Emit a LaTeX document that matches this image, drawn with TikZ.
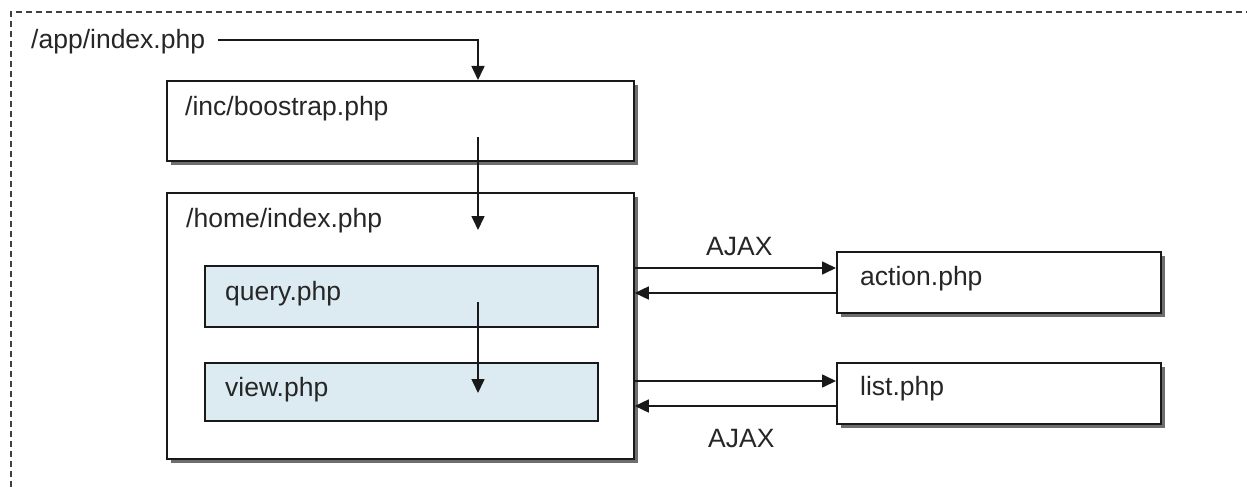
\documentclass[tikz,border=0pt]{standalone}
\usepackage{fontspec}
\setmainfont{Liberation Sans}
\usetikzlibrary{arrows.meta,positioning,calc}
\definecolor{boxblue}{RGB}{220,235,242}
\definecolor{lineclr}{RGB}{25,25,25}
\definecolor{shadowclr}{RGB}{110,110,110}
\begin{document}
\begin{tikzpicture}[x=1pt,y=-1pt,
  txt/.style={font=\fontsize{26.5}{31}\selectfont, text=black!85, inner sep=0pt, anchor=west},
  whitebox/.style={draw=lineclr, line width=1.8pt, fill=white, anchor=north west, inner sep=0pt},
  bluebox/.style={draw=lineclr, line width=1.6pt, fill=boxblue, anchor=north west, inner sep=0pt},
  shadowbox/.style={fill=shadowclr, draw=none, anchor=north west, inner sep=0pt},
  arr/.style={draw=lineclr, line width=1.6pt, -{Triangle[length=14pt,width=13pt]}},
  frame/.style={draw=black!75, line width=1.4pt, dash pattern=on 6pt off 4pt}
]
\useasboundingbox (0,0) rectangle (1247,487);
\fill[white] (0,0) rectangle (1247,487);

% dashed frame (top and left edges visible)
\coordinate (ftl) at (11,12);
\coordinate (ftr) at (1247,12);
\coordinate (fbl) at (11,487);
\draw[frame] (fbl) -- (ftl) -- (ftr);

% shadows
\node[shadowbox, minimum width=467pt, minimum height=80pt] at (171,85) {};
\node[shadowbox, minimum width=467pt, minimum height=266pt] at (171,197) {};
\node[shadowbox, minimum width=324pt, minimum height=61pt] at (841,256) {};
\node[shadowbox, minimum width=324pt, minimum height=61pt] at (841,367) {};

% boxes
\node[whitebox, minimum width=467pt, minimum height=80pt] (boot) at (166,80) {};
\node[whitebox, minimum width=467pt, minimum height=266pt] (home) at (166,192) {};
\node[bluebox, minimum width=393pt, minimum height=61pt] (query) at (204,265) {};
\node[bluebox, minimum width=393pt, minimum height=58pt] (view) at (204,362) {};
\node[whitebox, minimum width=324pt, minimum height=61pt] (action) at (836,251) {};
\node[whitebox, minimum width=324pt, minimum height=61pt] (list) at (836,362) {};

% texts
\node[txt] (app) at (31,42) {/app/index.php};
\node[txt] (boott) at (185,109) {/inc/boostrap.php};
\node[txt] (homet) at (186,221) {/home/index.php};
\node[txt] (queryt) at (225,294) {query.php};
\node[txt] (viewt) at (225,390) {view.php};
\node[txt] (actiont) at (860,279) {action.php};
\node[txt] (listt) at (860,389) {list.php};
\node[txt] (ajax1) at (706,247) {AJAX};
\node[txt] (ajax2) at (708,439) {AJAX};

% vertical flow
\coordinate (appstart) at (218,40);
\coordinate (bootin) at (478,80);
\coordinate (bootout) at (478,137);
\coordinate (homein) at (478,230);
\coordinate (qout) at (478,302);
\coordinate (vin) at (478,393);
\draw[arr] (appstart) -| (bootin);
\draw[arr] (bootout) -- (homein);
\draw[arr] (qout) -- (vin);

% AJAX arrows
\draw[arr] (home.east |- 0,268) -- (action.west |- 0,268);
\draw[arr] (action.west |- 0,293) -- (home.east |- 0,293);
\draw[arr] (home.east |- 0,381) -- (list.west |- 0,381);
\draw[arr] (list.west |- 0,406) -- (home.east |- 0,406);
\end{tikzpicture}
\end{document}
